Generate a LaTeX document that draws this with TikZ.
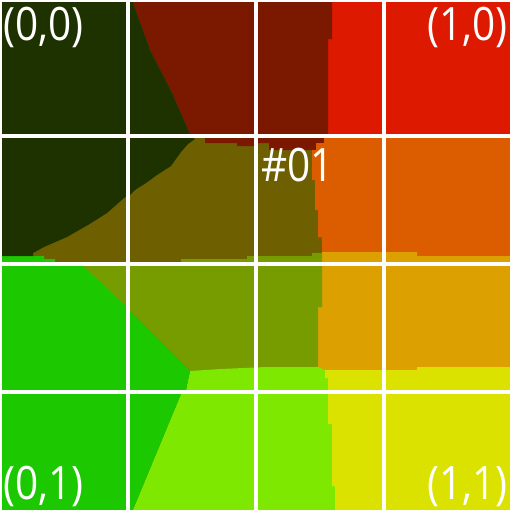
\documentclass[tikz,border=0pt]{standalone}
\usepackage{fontspec}
\setmainfont{Open Sans}[FakeStretch=0.88]
\definecolor{cA}{RGB}{30,50,0}
\definecolor{cB}{RGB}{122,24,0}
\definecolor{cC}{RGB}{221,25,0}
\definecolor{cD}{RGB}{110,96,0}
\definecolor{cE}{RGB}{220,92,0}
\definecolor{cF}{RGB}{118,156,0}
\definecolor{cG}{RGB}{220,160,0}
\definecolor{cH}{RGB}{28,200,0}
\definecolor{cI}{RGB}{126,232,0}
\definecolor{cJ}{RGB}{220,226,0}
\begin{document}
\begin{tikzpicture}[x=1pt,y=-1pt,
  lbl/.style={text=white,inner sep=0pt,font=\fontsize{46}{46}\selectfont},
  gridline/.style={white,line width=4pt}]
\useasboundingbox (0,0) rectangle (512,512);
% background = olive region D
\fill[cD] (0,0) rectangle (512,512);
% red C
\fill[cC] (256,0) rectangle (512,138);
% dark red B
\fill[cB] (132,0) -- (332,0) -- (332,39) -- (328,39) -- (328,138) -- (324,138) -- (324,143)
  -- (316,143) -- (316,150) -- (269,150) -- (269,143) -- (258,143) -- (258,146) -- (237,146)
  -- (237,143) -- (205,143) -- (205,138) -- (190,134) -- (172,93) -- (150,50) -- cycle;
% orange E
\fill[cE] (324,137) -- (512,137) -- (512,256) -- (417,256) -- (417,252) -- (322,252)
  -- (322,237) -- (318,237) -- (318,210) -- (315,210) -- (315,180) -- (312,180)
  -- (312,150) -- (316,150) -- (316,143) -- (324,143) -- cycle;
% amber G
\fill[cG] (322,252) -- (417,252) -- (417,256) -- (512,256) -- (512,367) -- (417,367)
  -- (417,370) -- (318,370) -- (318,307) -- (322,307) -- cycle;
% olive green F
\fill[cF] (55,263) -- (181,263) -- (181,259) -- (247,259) -- (247,256) -- (312,256)
  -- (312,253) -- (322,253) -- (322,307) -- (318,307) -- (318,367) -- (266,367)
  -- (266,370) -- (221,369) -- (221,373) -- (191,373) -- (190,371) -- (130,311)
  -- (126,306) -- (82,267) -- cycle;
% light green I
\fill[cI] (190,371) -- (221,369) -- (266,367) -- (318,367) -- (325,370) -- (340,370)
  -- (340,512) -- (132,512) -- (181,394) -- (186,390) -- cycle;
% yellow J
\fill[cJ] (325,370) -- (417,370) -- (417,367) -- (512,367) -- (512,512) -- (335,512)
  -- (335,486) -- (332,486) -- (332,424) -- (328,424) -- (328,378) -- (325,378) -- cycle;
% green H
\fill[cH] (0,256) -- (44,256) -- (44,259) -- (55,259) -- (55,263) -- (82,265)
  -- (126,306) -- (130,311) -- (190,371) -- (186,390) -- (181,394) -- (132,512)
  -- (0,512) -- cycle;
% dark green A
\fill[cA] (0,0) -- (132,0) -- (150,50) -- (172,93) -- (190,134) -- (195,139)
  -- (188,144) -- (181,152) -- (171,166) -- (157,175) -- (146,183) -- (135,190)
  -- (130,195) -- (124,198) -- (107,213) -- (88,225) -- (67,237) -- (44,247)
  -- (33,253) -- (33,256) -- (0,256) -- cycle;
% grid
\foreach \x in {128,256,384} \draw[gridline] (\x,0) -- (\x,512);
\foreach \y in {136,264,392} \draw[gridline] (0,\y) -- (512,\y);
\draw[gridline] (0,0) rectangle (512,512);
% labels
\node[lbl,anchor=base west] (tl) at (3,40) {(0,0)};
\node[lbl,anchor=base east] (tr) at (508,40) {(1,0)};
\node[lbl,anchor=base west] (bl) at (3,499) {(0,1)};
\node[lbl,anchor=base east] (br) at (508,499) {(1,1)};
\node[lbl,anchor=base west] (mid) at (261,181) {\#01};
\end{tikzpicture}
\end{document}
